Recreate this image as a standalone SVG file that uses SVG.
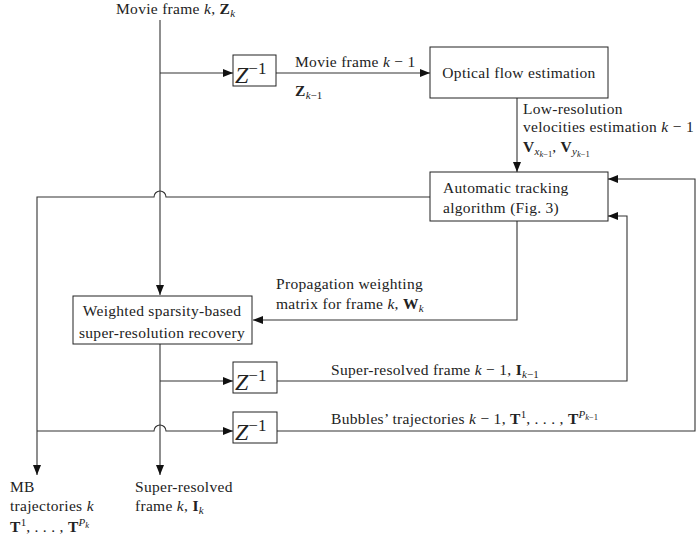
<svg xmlns="http://www.w3.org/2000/svg" width="696" height="541" viewBox="0 0 696 541">
<style>
text{font-family:"Liberation Serif","DejaVu Serif",serif;font-size:15.5px;letter-spacing:0.3px;fill:#222}
.i{font-style:italic}
.b{font-weight:bold}
.s{font-size:11px;letter-spacing:0}
.ss{font-size:8.5px;letter-spacing:0}
.box{fill:#fff;stroke:#222;stroke-width:1}
.ln{fill:none;stroke:#333;stroke-width:1.1}
.z{font-size:24px;font-style:italic;letter-spacing:0}
.zs{font-size:17px;letter-spacing:0}
</style>
<defs>
<marker id="ah" markerUnits="userSpaceOnUse" markerWidth="10" markerHeight="8" refX="10" refY="4" orient="auto">
<path d="M0,0 L10,4 L0,8 Z" fill="#111"/>
</marker>
</defs>
<g id="connectors">
<path class="ln" d="M160,20 V295" marker-end="url(#ah)"/>
<path class="ln" d="M160,73 H233" marker-end="url(#ah)"/>
<path class="ln" d="M276,73 H430" marker-end="url(#ah)"/>
<path class="ln" d="M517,98 V172" marker-end="url(#ah)"/>
<path class="ln" d="M430,197 H166 A6,6 0 0 0 154,197 H37 V475" marker-end="url(#ah)"/>
<path class="ln" d="M517,221 V320 H253" marker-end="url(#ah)"/>
<path class="ln" d="M160,344 V475" marker-end="url(#ah)"/>
<path class="ln" d="M160,381 H233" marker-end="url(#ah)"/>
<path class="ln" d="M277,381 H627 V216 H608" marker-end="url(#ah)"/>
<path class="ln" d="M37,431 H154 A6,6 0 0 1 166,431 H233" marker-end="url(#ah)"/>
<path class="ln" d="M277,431 H695 V179 H608" marker-end="url(#ah)"/>
</g>
<g id="input-label">
<text x="116" y="14">Movie frame <tspan class="i">k</tspan>, <tspan class="b">Z</tspan><tspan class="i s" dy="3">k</tspan></text>
</g>
<g id="z1">
<rect class="box" x="233" y="55" width="43" height="31"/>
<text x="235" y="83"><tspan class="z">Z</tspan><tspan class="zs" dy="-9">−1</tspan></text>
</g>
<g id="z1-label">
<text x="295" y="67">Movie frame <tspan class="i">k</tspan> − 1</text>
<text x="295" y="96"><tspan class="b">Z</tspan><tspan class="s" dy="3"><tspan class="i">k</tspan>−1</tspan></text>
</g>
<g id="optical">
<rect class="box" x="430" y="47" width="178" height="51"/>
<text x="519" y="78" text-anchor="middle">Optical flow estimation</text>
</g>
<g id="velocities-label">
<text x="523" y="114">Low-resolution</text>
<text x="523" y="132">velocities estimation <tspan class="i">k</tspan> − 1</text>
<text x="523" y="152"><tspan class="b">V</tspan><tspan class="i s" dy="3">x</tspan><tspan class="ss" dy="2"><tspan class="i">k</tspan>−1</tspan><tspan dy="-5">, </tspan><tspan class="b">V</tspan><tspan class="i s" dy="3">y</tspan><tspan class="ss" dy="2"><tspan class="i">k</tspan>−1</tspan></text>
</g>
<g id="tracking">
<rect class="box" x="430" y="172" width="178" height="49"/>
<text x="443" y="193">Automatic tracking</text>
<text x="443" y="213">algorithm (Fig. 3)</text>
</g>
<g id="propagation-label">
<text x="276" y="289">Propagation weighting</text>
<text x="276" y="309">matrix for frame <tspan class="i">k</tspan>, <tspan class="b">W</tspan><tspan class="i s" dy="3">k</tspan></text>
</g>
<g id="recovery">
<rect class="box" x="73" y="296" width="179" height="48"/>
<text x="162" y="316" text-anchor="middle">Weighted sparsity-based</text>
<text x="162" y="338" text-anchor="middle">super-resolution recovery</text>
</g>
<g id="z2">
<rect class="box" x="233" y="362" width="44" height="31"/>
<text x="235" y="390"><tspan class="z">Z</tspan><tspan class="zs" dy="-9">−1</tspan></text>
</g>
<g id="z2-label">
<text x="331" y="375">Super-resolved frame <tspan class="i">k</tspan> − 1, <tspan class="b">I</tspan><tspan class="s" dy="3"><tspan class="i">k</tspan>−1</tspan></text>
</g>
<g id="z3">
<rect class="box" x="233" y="412" width="44" height="31"/>
<text x="235" y="440"><tspan class="z">Z</tspan><tspan class="zs" dy="-9">−1</tspan></text>
</g>
<g id="z3-label">
<text x="331" y="424">Bubbles’ trajectories <tspan class="i">k</tspan> − 1, <tspan class="b">T</tspan><tspan class="s" dy="-6">1</tspan><tspan dy="6">, . . . , </tspan><tspan class="b">T</tspan><tspan class="i s" dy="-6">P</tspan><tspan class="ss" dy="2"><tspan class="i">k</tspan>−1</tspan></text>
</g>
<g id="mb-output">
<text x="10" y="492">MB</text>
<text x="10" y="511">trajectories <tspan class="i">k</tspan></text>
<text x="10" y="532"><tspan class="b">T</tspan><tspan class="s" dy="-6">1</tspan><tspan dy="6">, . . . , </tspan><tspan class="b">T</tspan><tspan class="i s" dy="-6">P</tspan><tspan class="i ss" dy="2">k</tspan></text>
</g>
<g id="sr-output">
<text x="135" y="492">Super-resolved</text>
<text x="135" y="511">frame <tspan class="i">k</tspan>, <tspan class="b">I</tspan><tspan class="i s" dy="3">k</tspan></text>
</g>
</svg>
